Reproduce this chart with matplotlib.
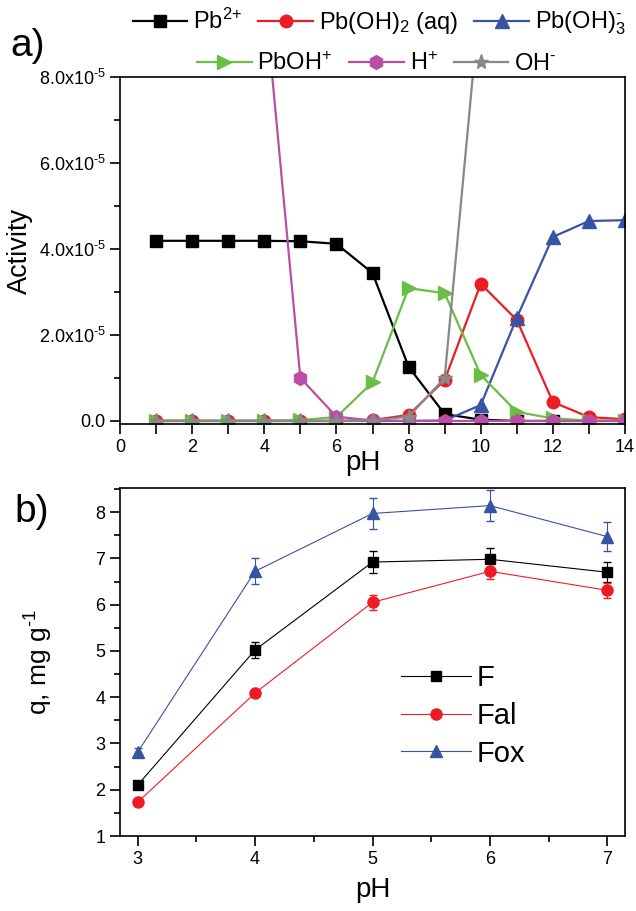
import matplotlib
matplotlib.use('Agg')
import matplotlib.pyplot as plt
import numpy as np
from matplotlib.ticker import MultipleLocator, FixedLocator
from matplotlib.lines import Line2D

plt.rcParams['font.family'] = ['Liberation Sans', 'DejaVu Sans']
plt.rcParams['mathtext.fontset'] = 'custom'
plt.rcParams['mathtext.rm'] = 'Liberation Sans'
plt.rcParams['mathtext.it'] = 'Liberation Sans:italic'
plt.rcParams['mathtext.bf'] = 'Liberation Sans:bold'

# ---- panel a: speciation (activity vs pH) ----
ph_a = [1, 2, 3, 4, 5, 6, 7, 8, 9, 10, 11, 12, 13, 14]
pb2 = [4.19, 4.19, 4.19, 4.19, 4.18, 4.12, 3.44, 1.26, 0.16, 0.03, 0.0, 0.0, 0.0, 0.0]
pboh2 = [0.0, 0.0, 0.0, 0.0, 0.0, 0.0, 0.02, 0.14, 0.95, 3.19, 2.35, 0.44, 0.09, 0.04]
pboh3 = [0.0, 0.0, 0.0, 0.0, 0.0, 0.0, 0.0, 0.0, 0.01, 0.37, 2.40, 4.28, 4.65, 4.67]
pboh = [0.01, 0.01, 0.01, 0.01, 0.02, 0.09, 0.90, 3.09, 2.97, 1.07, 0.21, 0.06, 0.01, 0.0]
h_plus = [1e-1, 1e-2, 1e-3, 1e-4, 1e-5, 1e-6, 1e-7, 1e-8, 1e-9, 1e-10, 1e-11, 1e-12, 1e-13, 1e-14]
oh_minus = [1e-13, 1e-12, 1e-11, 1e-10, 1e-9, 1e-8, 1e-7, 1e-6, 1e-5, 1e-4, 1e-3, 1e-2, 1e-1, 1.0]

# ---- panel b: sorption capacity vs pH ----
ph_b = [3, 4, 5, 6, 7]
q_F = [2.10, 5.02, 6.92, 6.98, 6.70]
q_F_err = [0.05, 0.17, 0.24, 0.25, 0.22]
q_Fal = [1.73, 4.09, 6.05, 6.72, 6.31]
q_Fal_err = [0.04, 0.07, 0.16, 0.17, 0.16]
q_Fox = [2.81, 6.72, 7.97, 8.14, 7.47]
q_Fox_err = [0.10, 0.28, 0.33, 0.34, 0.32]

black = 'black'
red = '#ed1c24'
blue = '#3953a4'
green = '#6abd45'
magenta = '#b84fa5'
gray = '#888888'

fig = plt.figure(figsize=(6.36, 9.11), dpi=100)
ax1 = fig.add_axes([0.1887, 0.5346, 0.7940, 0.3809])
ax2 = fig.add_axes([0.1887, 0.0823, 0.7940, 0.3820])

sc = 1e-5
lw = 1.6
series = [
    (np.array(pb2) * sc, black, 's', 8, r'Pb$^{\text{2+}}$'),
    (np.array(pboh2) * sc, red, 'o', 9, 'Pb(OH)$_2$ (aq)'),
    (np.array(pboh3) * sc, blue, '^', 10, r'Pb(OH)$_3^{\text{-}}$'),
    (np.array(pboh) * sc, green, '>', 10, r'PbOH$^{\text{+}}$'),
    (np.array(h_plus), magenta, 'h', 10, r'H$^{\text{+}}$'),
    (np.array(oh_minus), gray, '*', 11, r'OH$^{\text{-}}$'),
]
handles = []
for y, c, m, ms, lab in series:
    h, = ax1.plot(ph_a, y, color=c, marker=m, markersize=ms, lw=lw, label=lab)
    handles.append(h)

ax1.set_xlim(0, 14)
ax1.set_ylim(-0.07e-5, 8e-5)
ax1.xaxis.set_major_locator(FixedLocator(range(0, 15)))
ax1.set_xticklabels([str(i) if i % 2 == 0 else '' for i in range(0, 15)])
ax1.yaxis.set_major_locator(FixedLocator([0, 2e-5, 4e-5, 6e-5, 8e-5]))
ax1.set_yticklabels(['0.0'] + [r'%.1fx10$^{\text{-5}}$' % v for v in (2, 4, 6, 8)])
ax1.yaxis.set_minor_locator(MultipleLocator(1e-5))
ax1.tick_params(axis='both', which='major', direction='out', length=7, width=1.2, labelsize=13)
ax1.tick_params(axis='y', which='minor', direction='out', length=4, width=1.2)
ax1.set_ylabel('Activity', fontsize=19.5)
ax1.yaxis.set_label_coords(-0.172, 0.5)
ax1.set_xlabel('pH', fontsize=20)
ax1.xaxis.set_label_coords(0.48, -0.075)
for s in ax1.spines.values():
    s.set_linewidth(1.2)

leg1 = fig.legend(handles=handles[:3], loc='center', bbox_to_anchor=(379 / 636, 1 - 23 / 911),
                  ncol=3, frameon=False, fontsize=17, handlelength=2.3, handletextpad=0.25,
                  columnspacing=0.7, borderpad=0)
leg2 = fig.legend(handles=handles[3:], loc='center', bbox_to_anchor=(377 / 636, 1 - 64 / 911),
                  ncol=3, frameon=False, fontsize=17, handlelength=2.3, handletextpad=0.25,
                  columnspacing=0.7, borderpad=0)

fig.text(10 / 636, 1 - 46 / 911, 'a)', fontsize=28, va='center', ha='left')
fig.text(14 / 636, 1 - 512 / 911, 'b)', fontsize=28, va='center', ha='left')

# panel b
lwb = 0.8
ax2.errorbar(ph_b, q_F, yerr=q_F_err, color=black, marker='s', markersize=7, lw=lwb,
             elinewidth=0.8, capsize=3, label='F')
ax2.errorbar(ph_b, q_Fal, yerr=q_Fal_err, color=red, marker='o', markersize=8, lw=lwb,
             elinewidth=0.8, capsize=3, label='Fal')
ax2.errorbar(ph_b, q_Fox, yerr=q_Fox_err, color=blue, marker='^', markersize=9, lw=lwb,
             elinewidth=0.8, capsize=3, label='Fox')
ax2.set_xlim(2.85, 7.15)
ax2.set_ylim(1, 8.52)
ax2.xaxis.set_major_locator(MultipleLocator(1))
ax2.xaxis.set_minor_locator(MultipleLocator(0.5))
ax2.yaxis.set_major_locator(MultipleLocator(1))
ax2.yaxis.set_minor_locator(MultipleLocator(0.5))
ax2.tick_params(axis='both', which='major', direction='out', length=7, width=1.2, labelsize=13)
ax2.tick_params(axis='both', which='minor', direction='out', length=4, width=1.2)
ax2.set_ylabel(r'q, mg g$^{\text{-1}}$', fontsize=19)
ax2.yaxis.set_label_coords(-0.129, 0.5)
ax2.set_xlabel('pH', fontsize=20, labelpad=7)
for s in ax2.spines.values():
    s.set_linewidth(1.2)

leg_h = [Line2D([], [], color=black, marker='s', markersize=7, lw=lwb),
         Line2D([], [], color=red, marker='o', markersize=8, lw=lwb),
         Line2D([], [], color=blue, marker='^', markersize=9, lw=lwb)]
ax2.legend(leg_h, ['F', 'Fal', 'Fox'], loc='center left', bbox_to_anchor=(0.528, 0.345),
           frameon=False, fontsize=21, handlelength=2.4, handletextpad=0.2,
           labelspacing=0.33, borderpad=0)

plt.savefig('out.png', dpi=100)
